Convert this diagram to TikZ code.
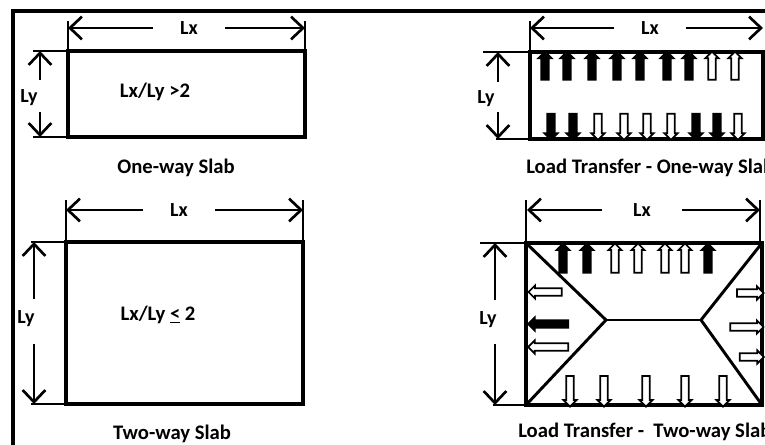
\documentclass[tikz,border=0pt]{standalone}
\usepackage{fontspec}
\setmainfont{Carlito}
\usetikzlibrary{arrows.meta,shapes.arrows}
\begin{document}
\begin{tikzpicture}[x=0.75pt,y=-0.75pt,
  frame/.style={line width=3pt},
  slab/.style={draw, line width=2.6pt, inner sep=0pt, outer sep=0pt},
  ext/.style={line width=2pt},
  diag/.style={line width=2.2pt},
  dim/.style={line width=2pt, -{Straight Barb[length=9pt,width=17pt]}},
  lbl/.style={font=\bfseries\fontsize{15}{18}\selectfont, inner sep=0pt},
  ratio/.style={font=\bfseries\fontsize{15.5}{18}\selectfont, inner sep=0pt},
  captxt/.style={font=\bfseries\fontsize{15.5}{18}\selectfont, inner sep=0pt},
  barr/.style={single arrow, draw, line width=1.3pt, inner xsep=0pt, inner ysep=2.1pt,
    outer sep=0pt, single arrow head extend=2.2pt, single arrow head indent=0pt},
  wa/.style={barr, fill=white},
  ba/.style={barr, fill=black}
]
\useasboundingbox (0,0) rectangle (765,445);
% frame
\coordinate (f1) at (13,450);
\coordinate (f2) at (13,11);
\coordinate (f3) at (770,11);
\draw[frame] (f1) -- (f2) -- (f3);

% ---------- One-way slab ----------
\node[slab, minimum width=177.75pt, minimum height=64.5pt] (s1) at (186.5,94) {};
\node[ratio] (r1) at (155,92) {Lx/Ly >2};
\node[captxt] (c1) at (176,168) {One-way Slab};
\coordinate (s1lx) at (68,28);
\coordinate (s1rx) at (305,28);
\node[lbl, minimum width=54pt] (lx1) at (189,28) {Lx};
\draw[ext] (s1.north west) -- (68,21);
\draw[ext] (s1.north east) -- (305,21);
\draw[dim] (lx1.west) -- (s1lx);
\draw[dim] (lx1.east) -- (s1rx);
\coordinate (s1t) at (40,51);
\coordinate (s1b) at (40,137);
\node[lbl] (ly1) at (29,98) {Ly};
\coordinate (ly1u) at (40,80);
\coordinate (ly1d) at (40,112);
\draw[ext] (s1.north west) -- (33,51);
\draw[ext] (s1.south west) -- (33,137);
\draw[dim] (ly1u) -- (s1t);
\draw[dim] (ly1d) -- (s1b);

% ---------- Two-way slab ----------
\node[slab, minimum width=177.75pt, minimum height=121.5pt] (s2) at (184.5,323) {};
\node[ratio] (r2) at (158,315) {Lx/Ly \underline{<} 2};
\node[captxt] (c2) at (172,434) {Two-way Slab};
\coordinate (s2lx) at (66,210);
\coordinate (s2rx) at (303,210);
\node[lbl, minimum width=54pt] (lx2) at (179,210) {Lx};
\draw[ext] (s2.north west) -- (66,200);
\draw[ext] (s2.north east) -- (303,200);
\draw[dim] (lx2.west) -- (s2lx);
\draw[dim] (lx2.east) -- (s2rx);
\coordinate (s2t) at (34,242);
\coordinate (s2b) at (34,404);
\node[lbl] (ly2) at (26,319) {Ly};
\coordinate (ly2u) at (34,299);
\coordinate (ly2d) at (34,344);
\draw[ext] (s2.north west) -- (31,242);
\draw[ext] (s2.south west) -- (31,404);
\draw[dim] (ly2u) -- (s2t);
\draw[dim] (ly2d) -- (s2b);

% ---------- Load transfer one-way ----------
\node[slab, minimum width=174.75pt, minimum height=65.25pt] (s3) at (646.5,95.5) {};
\node[captxt, anchor=west] (c3) at (526,168) {Load Transfer - One-way Slab};
\coordinate (s3lx) at (530,28);
\coordinate (s3rx) at (763,28);
\node[lbl, minimum width=53pt] (lx3) at (650,28) {Lx};
\draw[ext] (s3.north west) -- (530,21);
\draw[dim] (lx3.west) -- (s3lx);
\draw[dim] (lx3.east) -- (s3rx);
\coordinate (s3t) at (498,52);
\coordinate (s3b) at (498,139);
\node[lbl] (ly3) at (486,99) {Ly};
\coordinate (ly3u) at (498,82);
\coordinate (ly3d) at (498,112);
\draw[ext] (s3.north west) -- (483,52);
\draw[ext] (s3.south west) -- (496,139);
\draw[dim] (ly3u) -- (s3t);
\draw[dim] (ly3d) -- (s3b);
% up arrows
\foreach \x/\st [count=\i] in {545/ba,567/ba,592/ba,617/ba,640/ba,667/ba,689/ba,712/wa,735/wa}
  \node[\st, rotate=90, minimum height=21pt] (u3\i) at (\x,67.5) {};
% down arrows
\foreach \x/\st [count=\i] in {551/ba,573/ba,598/wa,624/wa,647/wa,671/wa,696/ba,717/ba,738/wa}
  \node[\st, rotate=-90, minimum height=19.5pt] (d3\i) at (\x,125) {};

% ---------- Load transfer two-way ----------
\node[slab, minimum width=177pt, minimum height=121.5pt] (s4) at (644,324) {};
\node[captxt, anchor=west] (c4) at (518,432) {Load Transfer -\ \ Two-way Slab};
\coordinate (s4lx) at (527,210);
\coordinate (s4rx) at (760,210);
\node[lbl, minimum width=60pt] (lx4) at (642,210) {Lx};
\draw[ext] (s4.north west) -- (526,200);
\draw[ext] (760,243) -- (760,200);
\draw[dim] (lx4.west) -- (s4lx);
\draw[dim] (lx4.east) -- (s4rx);
\coordinate (s4t) at (495,243);
\coordinate (s4b) at (495,405);
\node[lbl] (ly4) at (488,320) {Ly};
\coordinate (ly4u) at (495,300);
\coordinate (ly4d) at (495,344);
\draw[ext] (s4.north west) -- (480,243);
\draw[ext] (s4.south west) -- (493,405);
\draw[dim] (ly4u) -- (s4t);
\draw[dim] (ly4d) -- (s4b);
% yield lines
\coordinate (m1) at (606,320);
\coordinate (m2) at (701,320);
\draw[diag] (s4.north west) -- (m1) -- (s4.south west);
\draw[diag] (m1) -- (m2);
\draw[diag] (s4.north east) -- (m2) -- (s4.south east);
% up arrows
\foreach \x/\st [count=\i] in {563/ba,587/ba,615/wa,638/wa,665/wa,685/wa,708/ba}
  \node[\st, rotate=90, minimum height=22pt] (u4\i) at (\x,260) {};
% down arrows
\foreach \x [count=\i] in {570,604,646,685,723}
  \node[wa, rotate=-90, minimum height=23pt] (d4\i) at (\x,389.5) {};
% left arrows
\node[wa, rotate=180, minimum height=25pt] (l41) at (547,292) {};
\node[ba, rotate=180, minimum height=30pt] (l42) at (550,324) {};
\node[wa, rotate=180, minimum height=30pt] (l43) at (550,347) {};
% right arrows
\node[wa, minimum height=20pt] (r41) at (748.5,293) {};
\node[wa, minimum height=25pt] (r42) at (745,327) {};
\node[wa, minimum height=18pt] (r43) at (750,357) {};
\end{tikzpicture}
\end{document}
